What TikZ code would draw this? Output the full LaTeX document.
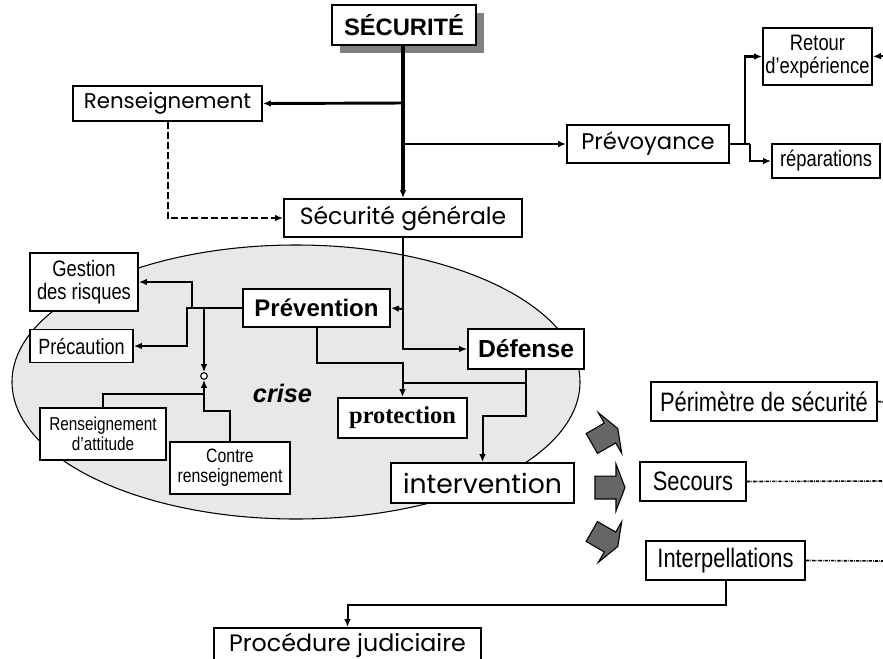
\documentclass[tikz,border=0pt]{standalone}
\usepackage{fontspec}
\setmainfont{Liberation Sans}
\newfontfamily\narrowfont[FakeStretch=0.82]{Liberation Sans}
\newfontfamily\geofont{Poppins}
\newfontfamily\serffont{Liberation Serif}
\usetikzlibrary{arrows.meta}
\definecolor{ellgray}{HTML}{E8E8E8}
\definecolor{blockgray}{HTML}{666666}
\begin{document}
\begin{tikzpicture}[x=0.75pt,y=-0.75pt,
  box/.style={draw,fill=white,line width=1.4pt,inner sep=0pt,align=center},
  nar/.style={font=\narrowfont\fontsize{#1}{17.5}\selectfont},
  geo/.style={font=\geofont\fontsize{#1}{20}\selectfont},
  con/.style={line width=1.5pt},
  arr/.style={-{Latex[length=6pt,width=5pt]}},
  dd/.style={line width=1.2pt,dash pattern=on 2.5pt off 0.8pt on 0.6pt off 0.8pt},
  blk/.style={fill=blockgray,draw=black,line width=0.8pt}]
\useasboundingbox (0,0) rectangle (883,658);
\clip (0,0) rectangle (883,658);

% crisis ellipse
\draw[fill=ellgray,line width=0.8pt] (296,382) ellipse [x radius=213pt, y radius=102.75pt];

% shadow of title
\fill[black!50] (340,13) rectangle (484,53);

% nodes
\node[box,minimum width=108pt,minimum height=30pt,font=\bfseries\fontsize{17.8}{20}\selectfont] (secu) at (404,25) {SÉCURITÉ};
\node[box,geo=16,minimum width=141.75pt,minimum height=26.25pt] (rens) at (167.5,103.5) {Renseignement};
\node[box,geo=17,minimum width=121.5pt,minimum height=28.5pt] (prevoy) at (648,144) {Prévoyance};
\node[box,nar=16.8,minimum width=81.75pt,minimum height=42.75pt] (retour) at (817.5,56.5) {Retour\\d’expérience};
\node[box,nar=16.8,minimum width=81pt,minimum height=25.5pt] (repar) at (826,161) {réparations};
\node[box,geo=17.6,minimum width=178.5pt,minimum height=28.5pt] (secgen) at (403,218) {Sécurité générale};
\node[box,minimum width=110.25pt,minimum height=28.5pt,font=\bfseries\fontsize{18}{20}\selectfont] (prevent) at (316.5,308) {Prévention};
\node[box,minimum width=87pt,minimum height=30pt,font=\bfseries\fontsize{18.5}{20}\selectfont] (defense) at (526,349) {Défense};
\node[box,nar=16.8,minimum width=81pt,minimum height=43.5pt] (gestion) at (84,282) {Gestion\\des risques};
\node[box,nar=16.5,minimum width=77.25pt,minimum height=24.75pt] (precau) at (81.5,346) {Précaution};
\node[box,font=\narrowfont\fontsize{14}{15}\selectfont,minimum width=94.5pt,minimum height=39pt] (rensatt) at (103,434) {Renseignement\\d’attitude};
\node[box,font=\narrowfont\fontsize{14.5}{14.8}\selectfont,minimum width=90pt,minimum height=39pt] (contre) at (230,468) {Contre\\renseignement};
\node[box,minimum width=96.75pt,minimum height=30pt,font=\serffont\bfseries\fontsize{18.3}{20}\selectfont] (protect) at (402.5,418) {protection};
\node[box,geo=20,minimum width=137.25pt,minimum height=30pt] (interv) at (482.5,483) {intervention};
\node[box,nar=20,minimum width=169.5pt,minimum height=29.25pt] (perim) at (764,401.5) {Périmètre de sécurité};
\node[box,nar=20,minimum width=79.5pt,minimum height=29.25pt] (secours) at (693,481.5) {Secours};
\node[box,nar=20,minimum width=119.25pt,minimum height=29.25pt] (interp) at (725.5,560.5) {Interpellations};
\node[box,geo=17.8,minimum width=200.25pt,minimum height=25.5pt] (proc) at (347.5,645) {Procédure judiciaire};
\node[font=\bfseries\itshape\fontsize{19}{20}\selectfont] (crise) at (282.5,393) {crise};
\node[draw,circle,fill=white,inner sep=0pt,minimum size=5pt,line width=0.8pt] (circ) at (204,376) {};

% junction coordinates
\coordinate (jr) at (403,103);
\coordinate (jp) at (403,144);
\coordinate (ja) at (745,144);
\coordinate (jb) at (750,144);
\coordinate (jv) at (403,309);
\coordinate (c1) at (402.5,363);
\coordinate (c2) at (402.5,383);
\coordinate (c3) at (526,383);
\coordinate (c4) at (482.5,416);
\coordinate (c5) at (187,308);
\coordinate (c6) at (192,308);
\coordinate (c7) at (204,308);
\coordinate (c8) at (204,411);
\coordinate (c9) at (204,394);
\coordinate (c10) at (725.5,605);
\coordinate (e1) at (883,56);
\coordinate (e2) at (883,402);
\coordinate (e3) at (883,481);
\coordinate (e4) at (883,561);

% connectors
\draw[line width=3pt,arr] (secu.south -| secgen.north) -- (secgen.north);
\draw[line width=2.2pt,arr] (jr) -- (rens.east);
\draw[con,arr] (jp) -- (prevoy.west);
\draw[line width=2.2pt] (prevoy.east) -- (jb);
\draw[line width=2.2pt,arr] (ja) |- (retour.west);
\draw[line width=2.2pt,arr] (jb) |- (repar.west);
\draw[con,arr] (e1) -- (retour.east);
\draw[con,dashed,dash pattern=on 5pt off 2.5pt,arr] (rens.south) |- (secgen.west);
\draw[con,arr] (secgen.south) |- (defense.west);
\draw[con,arr] (jv) -- (prevent.east);
\draw[con,arr] (prevent.south) |- (c1) -- (protect.north);
\draw[con] (c2) -- (c3);
\draw[con,arr] (defense.south) |- (c4) -- (interv.north);
\draw[line width=2.2pt,arr] (prevent.west) -- (c5) |- (precau.east);
\draw[line width=2.2pt,arr] (c6) |- (gestion.east);
\draw[line width=2.2pt,arr] (c7) -- (circ.north);
\draw[con,arr] (contre.north) |- (c8) -- (circ.south);
\draw[con] (rensatt.north) |- (c9);
\draw[con,arr] (interp.south) -- (c10) -| (proc.north);
\draw[dd] (perim.east) -- (e2);
\draw[dd] (secours.east) -- (e3);
\draw[dd] (interp.east) -- (e4);

% block arrows
\filldraw[blk,shift={(610,433)},rotate=30] (-15.75pt,-8.6pt) -- (0pt,-8.6pt) -- (0pt,-17.6pt) -- (6.75pt,0pt) -- (0pt,17.6pt) -- (0pt,8.6pt) -- (-15.75pt,8.6pt) -- cycle;
\filldraw[blk,shift={(616,487.5)}] (-15.75pt,-8.6pt) -- (0pt,-8.6pt) -- (0pt,-17.6pt) -- (6.75pt,0pt) -- (0pt,17.6pt) -- (0pt,8.6pt) -- (-15.75pt,8.6pt) -- cycle;
\filldraw[blk,shift={(610,542)},rotate=-30] (-15.75pt,-8.6pt) -- (0pt,-8.6pt) -- (0pt,-17.6pt) -- (6.75pt,0pt) -- (0pt,17.6pt) -- (0pt,8.6pt) -- (-15.75pt,8.6pt) -- cycle;
\end{tikzpicture}
\end{document}
